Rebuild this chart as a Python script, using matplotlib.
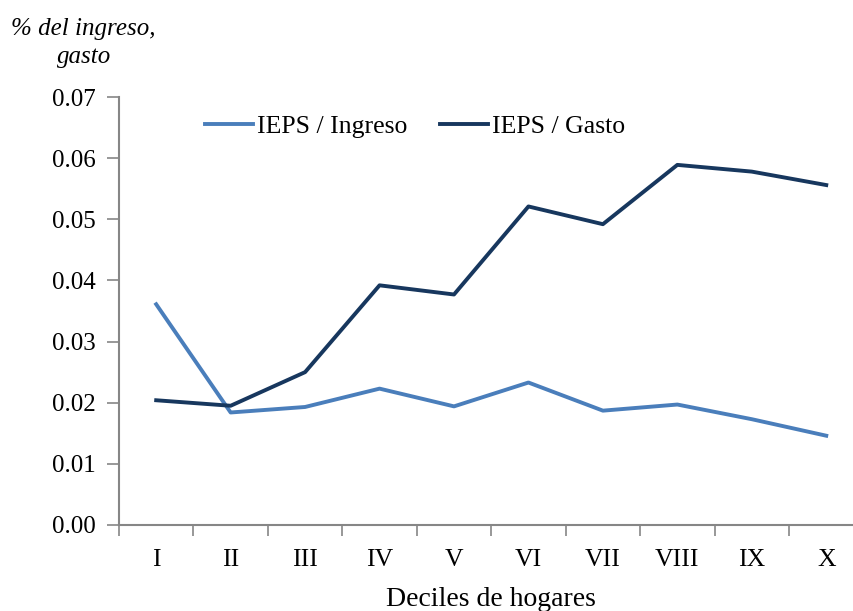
import numpy as np
import matplotlib.pyplot as plt
from matplotlib.ticker import FixedLocator

DECILES = ["I", "II", "III", "IV", "V", "VI", "VII", "VIII", "IX", "X"]
IEPS_INGRESO = [0.0361, 0.0184, 0.0193, 0.0223, 0.0194, 0.0233, 0.0187, 0.0197, 0.0173, 0.0146]
IEPS_GASTO = [0.0204, 0.0195, 0.0250, 0.0392, 0.0377, 0.0521, 0.0492, 0.0589, 0.0578, 0.0556]
Y_TICKS = [0.00, 0.01, 0.02, 0.03, 0.04, 0.05, 0.06, 0.07]

COLOR_INGRESO = "#4A7EBB"
COLOR_GASTO = "#17375E"
AXIS_GRAY = "#868686"

plt.rcParams["font.family"] = ["Liberation Serif", "DejaVu Serif"]

fig = plt.figure(figsize=(8.54, 6.11), dpi=100)
# axes run a little past the right edge, like the original
ax = fig.add_axes([0.1393, 0.1408, 0.8718, 0.7004])

x = np.arange(len(DECILES))
ax.plot(x, IEPS_INGRESO, color=COLOR_INGRESO, linewidth=2.8, label="IEPS / Ingreso")
ax.plot(x, IEPS_GASTO, color=COLOR_GASTO, linewidth=2.8, label="IEPS / Gasto")

ax.set_xlim(-0.5, len(DECILES) - 0.5)
ax.set_ylim(0, 0.07)
ax.set_yticks(Y_TICKS)
ax.set_yticklabels([f"{v:.2f}" for v in Y_TICKS], fontsize=18)

ax.set_xticks(x)
ax.set_xticklabels(DECILES, fontsize=18.5)
ax.xaxis.set_minor_locator(FixedLocator(np.arange(-0.5, len(DECILES), 1.0)))
ax.tick_params(axis="x", which="major", length=0, pad=17)
ax.tick_params(axis="x", which="minor", length=8, color=AXIS_GRAY, width=1.2)
ax.tick_params(axis="y", length=9, color=AXIS_GRAY, width=1.2, pad=8)

for side in ("top", "right"):
    ax.spines[side].set_visible(False)
for side in ("left", "bottom"):
    ax.spines[side].set_color(AXIS_GRAY)
    ax.spines[side].set_linewidth(1.5)

ax.set_xlabel("Deciles de hogares", fontsize=20, labelpad=12)
fig.text(0.098, 0.929, "% del ingreso,\ngasto", fontsize=18, style="italic",
         ha="center", va="center", linespacing=1.35)

ax.legend(loc="center left", bbox_to_anchor=(0.1155, 0.93), ncol=2, frameon=False,
          fontsize=18.5, handlelength=1.87, handletextpad=0.15, columnspacing=1.28,
          borderpad=0, borderaxespad=0)

fig.savefig("out.png", dpi=100)
